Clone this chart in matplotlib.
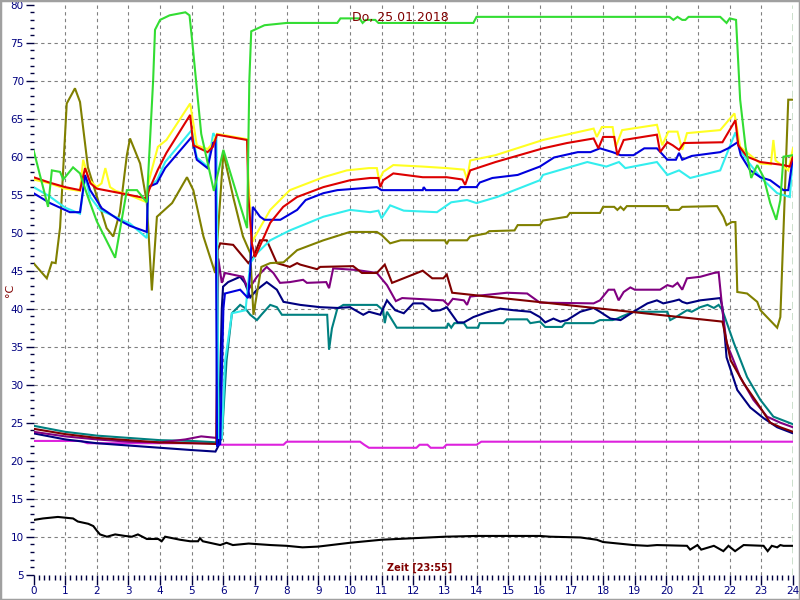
import matplotlib
matplotlib.use("Agg")
import matplotlib.pyplot as plt
from matplotlib.patches import Rectangle
from matplotlib.ticker import MultipleLocator

# ---------------- data (hours, °C) ----------------
t_black = [0, 0.3, 0.77, 1.25, 1.4, 1.73, 1.89, 2.0, 2.1, 2.32, 2.58, 2.89, 3.11, 3.3, 3.58, 3.94, 4.05, 4.16,
           4.63, 4.95, 5.2, 5.26, 5.35, 5.9, 6.1, 6.3, 6.8, 7.5, 8.0, 8.5, 9.0, 10.0, 11.0, 12.0, 13.0, 14.0,
           15.0, 16.0, 16.33, 17.28, 17.8, 18.0, 18.96, 19.4, 19.7, 20.65, 20.75, 20.98, 21.1, 21.5, 21.8,
           21.96, 22.17, 22.44, 23.07, 23.2, 23.33, 23.5, 23.6, 23.7, 24]
v_black = [12.2, 12.4, 12.6, 12.4, 12.0, 11.7, 11.4, 10.8, 10.3, 10.0, 10.3, 10.1, 10.0, 10.3, 9.7, 9.7, 9.4, 10.0,
           9.6, 9.4, 9.4, 9.8, 9.4, 8.9, 9.2, 8.9, 9.1, 8.9, 8.8, 8.6, 8.7, 9.2, 9.6, 9.8, 10.0, 10.1,
           10.1, 10.1, 10.0, 9.9, 9.6, 9.3, 8.9, 8.8, 8.9, 8.8, 8.3, 8.9, 8.3, 8.8, 8.1,
           8.8, 8.1, 8.9, 8.8, 8.1, 8.8, 8.6, 8.9, 8.8, 8.8]

t_magenta = [0, 1.5, 1.7, 5.8, 5.9, 7.9, 8.0, 10.32, 10.45, 10.6, 12.1, 12.2, 12.45, 12.55, 12.95, 13.05, 14.0, 14.15, 24]
v_magenta = [22.6, 22.6, 22.3, 22.3, 22.1, 22.1, 22.5, 22.5, 22.1, 21.7, 21.7, 22.1, 22.1, 21.7, 21.7, 22.1, 22.1, 22.5, 22.5]

t_teal = [0, 1, 2, 3, 4, 5, 5.85, 5.95, 6.1, 6.27, 6.53, 6.68, 6.85, 7.06, 7.2, 7.48, 7.69, 7.85, 9.28, 9.34,
          9.43, 9.6, 9.79, 10.85, 11.05, 11.1, 11.17, 11.48, 13.06, 13.1, 13.2, 13.3, 13.6, 13.7, 14.05, 14.1,
          14.85, 14.96, 15.6, 15.7, 16.0, 16.17, 16.7, 16.8, 17.7, 17.9, 18.3, 18.45, 18.6, 18.96, 20.03, 20.12,
          20.3, 20.65, 20.8, 21.07, 21.3, 21.5, 21.65, 21.77, 22.13, 22.55, 22.97, 23.38, 24]
v_teal = [24.6, 23.8, 23.3, 23.0, 22.7, 22.6, 22.4, 22.9, 33.2, 39.4, 40.5, 40.1, 39.2, 38.5, 39.2, 40.5, 40.2, 39.2, 39.2, 34.6,
          37.4, 40.0, 40.5, 40.5, 39.8, 38.1, 39.6, 37.5, 37.5, 38.1, 37.5, 38.1, 38.1, 37.5, 37.5, 38.1,
          38.1, 38.6, 38.6, 38.1, 38.3, 37.6, 37.6, 38.1, 38.1, 38.5, 38.5, 38.7, 39.0, 39.6, 39.6, 38.5,
          38.9, 39.8, 39.6, 40.2, 40.5, 40.1, 40.5, 39.8, 35.5, 31.0, 28.0, 25.8, 24.8]

t_navy = [0, 1, 2, 3, 4, 5, 5.75, 5.85, 5.95, 5.99, 6.15, 6.53, 6.68, 6.85, 7.06, 7.37, 7.69, 7.9, 8.43, 9.06,
          9.6, 10.0, 10.42, 10.6, 10.96, 11.17, 11.43, 11.7, 12.0, 12.3, 12.6, 12.85, 13.06, 13.4, 13.6, 13.9,
          14.3, 14.75, 15.17, 15.7, 16.0, 16.17, 16.43, 16.65, 16.86, 17.28, 17.7, 17.9, 18.23, 18.55, 18.96,
          19.4, 19.7, 19.9, 20.22, 20.4, 20.5, 20.65, 21.07, 21.7, 21.77, 21.9, 22.24, 22.65, 23.07, 23.5, 24]
v_navy = [23.6, 22.8, 22.3, 22.0, 21.7, 21.4, 21.2, 22.0, 40.0, 42.9, 43.5, 44.2, 43.4, 41.5, 42.5, 43.5, 42.5, 40.9, 40.5, 40.2,
          40.1, 40.2, 39.2, 39.6, 39.2, 41.1, 39.8, 39.4, 40.7, 40.7, 39.7, 39.8, 40.2, 38.2, 38.2, 38.9,
          39.5, 40.0, 39.8, 39.6, 38.9, 38.2, 38.7, 38.3, 38.5, 39.6, 40.1, 39.6, 38.7, 38.5, 39.6,
          40.7, 41.1, 40.7, 41.0, 41.2, 40.9, 40.7, 41.1, 41.4, 40.2, 33.6, 29.3, 27.0, 25.6, 24.4, 23.6]

t_purple = [0, 1, 2, 3, 4, 4.8, 5.3, 5.78, 5.84, 5.95, 6.05, 6.62, 6.79, 7.06, 7.37, 7.58, 7.79, 8.1, 8.52, 8.64,
            9.25, 9.34, 9.47, 10.2, 10.85, 11.17, 11.45, 11.65, 12.95, 13.1, 13.25, 13.6, 13.7, 13.8, 14.96,
            15.6, 16.0, 17.7, 17.9, 18.17, 18.35, 18.49, 18.65, 18.86, 19.0, 19.8, 20.03, 20.2, 20.35, 20.5,
            20.65, 21.07, 21.5, 21.65, 21.77, 21.9, 22.33, 22.75, 23.18, 23.6, 24]
v_purple = [23.8, 23.2, 22.8, 22.5, 22.4, 22.8, 23.2, 23.0, 46.6, 43.4, 44.7, 44.2, 42.5, 44.2, 45.5, 44.7, 43.4, 43.5, 43.8, 43.4,
            43.5, 42.7, 45.3, 45.1, 44.7, 43.1, 41.0, 41.4, 41.1, 40.5, 41.3, 41.1, 40.5, 41.6, 42.1,
            42.0, 40.8, 40.7, 41.1, 42.5, 42.5, 41.1, 42.2, 42.8, 42.5, 42.5, 43.1, 42.9, 43.4, 42.5,
            44.0, 44.2, 44.7, 44.8, 39.8, 35.5, 31.0, 28.0, 25.8, 25.0, 24.4]

t_maroon = [0, 1, 2, 3, 4, 5, 5.78, 5.82, 5.9, 6.31, 6.53, 6.79, 6.95, 7.16, 7.37, 7.69, 8.1, 8.33, 8.43, 8.96,
            9.06, 10.1, 10.38, 10.85, 11.1, 11.33, 12.3, 12.6, 12.95, 13.06, 13.23, 13.9, 21.77, 22.03, 22.44,
            22.87, 23.28, 23.6, 24]
v_maroon = [24.2, 23.5, 23.0, 22.7, 22.4, 22.3, 22.2, 47.7, 48.6, 48.4, 47.3, 46.0, 46.8, 49.0, 49.0, 46.0, 45.5, 46.0, 45.8, 45.2,
            45.5, 45.6, 44.7, 44.7, 45.8, 43.4, 45.0, 44.0, 44.0, 44.5, 42.1, 41.8, 38.3, 33.2, 30.2,
            27.6, 25.0, 24.4, 23.8]

t_olive = [0, 0.42, 0.58, 0.7, 0.84, 1.05, 1.31, 1.47, 1.72, 2.31, 2.52, 2.73, 2.95, 3.05, 3.37, 3.58, 3.74, 3.9,
           4.38, 4.85, 5.05, 5.37, 5.74, 6.0, 6.31, 6.62, 6.85, 6.95, 7.2, 7.48, 7.9, 8.33, 9.16, 10.0, 10.85,
           11.0, 11.27, 11.6, 13.0, 13.06, 13.12, 13.7, 13.8, 14.3, 14.4, 15.2, 15.3, 16.0, 16.1, 16.86, 16.95,
           17.9, 18.0, 18.35, 18.45, 18.55, 18.65, 18.75, 20.03, 20.1, 20.4, 20.5, 21.6, 21.8, 21.9, 22.07,
           22.18, 22.24, 22.55, 22.87, 22.97, 23.5, 23.6, 23.85, 24]
v_olive = [46.0, 44.0, 46.1, 46.0, 50.7, 67.0, 69.0, 67.2, 58.6, 50.6, 49.5, 52.7, 60.2, 62.4, 59.1, 54.0, 42.4, 52.1,
           53.9, 57.3, 55.6, 49.5, 44.7, 60.5, 54.7, 49.5, 47.3, 39.2, 45.5, 46.0, 46.1, 47.7, 49.0, 50.1, 50.1,
           49.7, 48.6, 49.0, 49.0, 48.5, 49.0, 49.0, 49.5, 49.9, 50.2, 50.3, 51.0, 51.0, 51.6, 52.1, 52.6,
           52.6, 53.4, 53.4, 53.0, 53.4, 53.0, 53.5, 53.5, 53.0, 53.0, 53.4, 53.5, 52.1, 51.0, 51.4,
           51.4, 42.2, 42.0, 40.9, 39.8, 37.5, 38.9, 67.5, 67.5]

t_cyan = [0, 0.5, 1.0, 1.47, 1.63, 1.79, 2.1, 3.05, 3.58, 3.62, 3.9, 4.16, 5.0, 5.16, 5.5, 5.68, 5.78, 5.85, 5.95,
          6.05, 6.27, 6.7, 6.85, 7.06, 7.48, 8.1, 9.16, 10.0, 10.64, 10.9, 11.0, 11.27, 11.7, 12.75, 13.2, 13.7,
          14.0, 14.65, 16.0, 16.1, 17.5, 18.1, 18.5, 18.7, 19.7, 20.03, 20.4, 20.75, 21.7, 22.18, 22.33, 22.55,
          22.97, 23.5, 23.9, 24]
v_cyan = [56.0, 54.8, 53.3, 52.5, 57.3, 54.7, 53.0, 51.2, 49.3, 56.0, 56.9, 59.3, 63.5, 59.9, 58.7, 63.1, 62.5, 23.0, 23.0,
          33.0, 39.4, 39.8, 46.0, 47.3, 49.0, 50.3, 52.1, 53.0, 52.7, 52.9, 51.9, 53.6, 52.9, 52.7, 54.0, 54.3,
          53.9, 54.7, 56.9, 57.6, 59.3, 58.7, 59.3, 58.5, 59.3, 57.6, 58.2, 57.2, 58.2, 63.2, 60.9, 59.5,
          57.3, 55.2, 54.7, 60.5]

t_blue = [0, 0.52, 1.15, 1.47, 1.63, 1.79, 2.16, 2.73, 3.05, 3.58, 3.62, 3.9, 4.16, 5.0, 5.16, 5.5, 5.67, 5.75,
          5.8, 5.9, 6.0, 6.05, 6.53, 6.78, 6.85, 6.93, 7.16, 7.3, 7.8, 8.33, 8.6, 9.16, 9.6, 10.85, 11.0, 12.3,
          12.33, 12.4, 13.4, 13.5, 14.0, 14.1, 14.5, 15.3, 16.0, 16.45, 17.2, 17.6, 17.9, 18.3, 18.55, 18.96,
          19.3, 19.7, 20.03, 20.3, 20.4, 20.5, 20.8, 21.7, 21.95, 22.25, 22.35, 22.65, 22.97, 23.28, 23.7,
          23.85, 24]
v_blue = [55.2, 53.9, 52.7, 52.7, 57.6, 55.6, 53.2, 51.6, 50.9, 50.1, 56.0, 56.5, 58.5, 62.6, 59.6, 58.5, 61.8, 62.0,
          22.0, 22.2, 40.0, 42.0, 42.5, 41.4, 45.0, 53.4, 52.1, 51.7, 51.7, 53.0, 54.3, 55.2, 55.6, 56.0, 55.6, 55.6,
          56.0, 55.6, 55.6, 56.0, 56.0, 56.6, 57.2, 57.6, 58.7, 59.9, 60.6, 60.6, 61.1, 60.6, 60.2, 60.2,
          61.1, 61.1, 59.6, 59.6, 60.5, 59.6, 60.1, 60.6, 61.1, 61.9, 60.2, 58.2, 57.3, 56.9, 55.6,
          55.6, 60.0]

t_yellow = [0, 0.5, 1.0, 1.47, 1.57, 1.75, 2.0, 2.15, 2.27, 2.42, 2.6, 3.0, 3.58, 3.65, 3.93, 4.2, 4.95, 5.0, 5.16,
            5.5, 5.67, 5.8, 6.75, 6.8, 6.92, 7.0, 7.48, 8.1, 9.16, 9.9, 10.6, 10.85, 10.92, 11.05, 11.37, 12.3,
            13.06, 13.6, 13.7, 13.8, 14.6, 16.1, 17.7, 17.8, 17.96, 18.3, 18.4, 18.6, 19.7, 19.87, 20.06, 20.35,
            20.5, 20.65, 21.7, 22.15, 22.33, 22.97, 23.3, 23.38, 23.45, 23.85, 24]
v_yellow = [57.0, 56.5, 55.8, 55.5, 59.6, 57.0, 56.0, 56.5, 58.5, 56.0, 55.5, 55.0, 54.0, 56.9, 61.3, 62.2, 67.0, 65.7, 61.5,
            61.0, 61.8, 63.0, 62.3, 56.0, 48.8, 49.5, 53.0, 55.6, 57.3, 58.2, 58.5, 58.5, 56.9, 58.0, 58.9, 58.7,
            58.5, 58.3, 57.0, 59.5, 60.2, 62.2, 63.7, 62.6, 63.9, 63.9, 61.3, 63.5, 64.2, 61.5, 63.3, 63.3,
            60.9, 63.1, 63.5, 65.7, 61.3, 59.1, 59.0, 62.2, 59.5, 58.2, 61.1]

t_red = [0, 0.5, 1.0, 1.47, 1.63, 1.8, 2.0, 3.0, 3.58, 3.65, 3.93, 4.2, 4.95, 5.05, 5.5, 5.67, 5.8, 6.75, 6.79,
         6.9, 7.0, 7.48, 7.89, 8.33, 9.16, 10.0, 10.64, 10.9, 10.96, 11.05, 11.37, 12.3, 13.06, 13.55, 13.64,
         13.8, 14.6, 16.1, 16.86, 17.7, 17.85, 18.0, 18.35, 18.45, 18.65, 19.7, 19.8, 20.03, 20.2, 20.4, 20.55,
         21.77, 22.18, 22.27, 22.55, 22.97, 23.7, 23.9, 24]
v_red = [57.3, 56.6, 56.0, 55.6, 58.5, 56.5, 55.8, 55.0, 54.5, 55.6, 58.3, 60.5, 65.5, 61.5, 60.6, 61.3, 62.9, 62.2, 54.7,
         48.6, 46.8, 51.3, 53.4, 54.7, 56.0, 56.9, 57.2, 57.2, 56.0, 56.9, 57.8, 57.3, 57.3, 57.0, 56.3,
         58.2, 59.3, 61.1, 61.8, 62.4, 61.1, 62.6, 62.6, 60.2, 62.2, 62.9, 60.6, 61.9, 61.5, 60.9, 61.8,
         61.9, 64.8, 61.5, 60.0, 59.3, 58.9, 58.7, 60.0]

t_green = [0, 0.46, 0.58, 0.84, 0.94, 1.25, 1.47, 1.72, 2.0, 2.58, 2.95, 3.27, 3.58, 3.78, 3.84, 4.0, 4.3, 4.8,
           4.93, 5.02, 5.3, 5.7, 6.0, 6.75, 6.82, 6.88, 7.3, 8.0, 9.6, 9.7, 10.3, 10.4, 10.5, 10.8, 10.9, 13.9,
           14.0, 20.1, 20.22, 20.35, 20.5, 20.6, 20.7, 21.7, 21.9, 22.0, 22.2, 22.33, 22.5, 22.68, 22.87, 23.07,
           23.28, 23.47, 23.6, 23.7, 24]
v_green = [60.9, 53.4, 58.2, 58.0, 57.0, 58.6, 57.8, 54.7, 51.5, 46.7, 55.6, 55.6, 54.0, 70.0, 76.7, 78.0, 78.6, 79.0,
           78.6, 75.0, 63.0, 55.5, 60.9, 50.6, 70.0, 76.5, 77.3, 77.6, 77.6, 78.2, 78.2, 77.6, 78.0, 78.0, 77.6, 77.6,
           78.4, 78.4, 78.0, 78.4, 78.0, 78.0, 78.4, 78.4, 77.6, 78.2, 78.0, 67.5, 61.3, 57.2, 58.9, 57.3,
           53.9, 51.7, 54.3, 60.0, 60.2]

x_ticks = list(range(0, 25))
y_ticks = list(range(5, 81, 5))
title_text = "Do, 25.01.2018"
xlabel_text = "Zeit [23:55]"
ylabel_text = "°C"

# ---------------- figure ----------------
plt.rcParams['font.family'] = ['DejaVu Sans']
fig = plt.figure(figsize=(8, 6), dpi=100)
fig.patch.set_facecolor('white')
ax = fig.add_axes([33.5 / 800, 1 - 574.7 / 600, (793 - 33.5) / 800, (574.7 - 4.7) / 600])
ax.set_xlim(0, 24)
ax.set_ylim(5, 80)
ax.set_facecolor('white')

# grid
for yv in y_ticks[1:-1]:
    ax.axhline(yv, color='#808080', lw=0.8, ls=(0, (3, 3)), zorder=0)
for xv in x_ticks[1:-1]:
    ax.axvline(xv, color='#808080', lw=0.8, ls=(0, (3, 3)), zorder=0)
ax.axvline(24, color='#006400', lw=1.0, ls=(0, (5, 3)), zorder=0)

series = [
    (t_black, v_black, '#000000'),
    (t_magenta, v_magenta, '#DD22DD'),
    (t_teal, v_teal, '#008080'),
    (t_navy, v_navy, '#000080'),
    (t_purple, v_purple, '#800080'),
    (t_maroon, v_maroon, '#800000'),
    (t_olive, v_olive, '#808000'),
    (t_cyan, v_cyan, '#33EEEE'),
    (t_yellow, v_yellow, '#FFFF22'),
    (t_blue, v_blue, '#0000DD'),
    (t_red, v_red, '#DD0000'),
    (t_green, v_green, '#33DD33'),
]
for t, v, c in series:
    ax.plot(t, v, color=c, lw=1.5, solid_joinstyle='miter', zorder=2)

for s in ax.spines.values():
    s.set_visible(False)

ax.xaxis.set_major_locator(MultipleLocator(1))
ax.xaxis.set_minor_locator(MultipleLocator(1 / 6))
ax.yaxis.set_major_locator(MultipleLocator(5))
ax.yaxis.set_minor_locator(MultipleLocator(1))
ax.set_xticks(x_ticks)
ax.set_yticks(y_ticks)
ax.tick_params(axis='x', which='major', length=7, width=1, color='#000040', labelcolor='#000080',
               labelsize=7.5, pad=1)
ax.tick_params(axis='x', which='minor', length=3.5, width=1, color='#000040')
ax.tick_params(axis='y', which='major', length=6, width=1, color='#000040', labelcolor='#000080',
               labelsize=7.5, pad=1)
ax.tick_params(axis='y', which='minor', length=3, width=1, color='#000040')

fig.text(0.5, 1 - 17 / 600, title_text, ha='center', va='center', color='#800000', fontsize=9)
fig.text(420 / 800, 1 - 568 / 600, xlabel_text, ha='center', va='center', color='#800000',
         fontsize=7, fontweight='bold')
fig.text(10 / 800, 1 - 290 / 600, ylabel_text, ha='center', va='center', color='#800000',
         fontsize=8, rotation=90)

fig.patches.append(Rectangle((0, 0), 1, 1, transform=fig.transFigure, fill=False,
                             edgecolor='#A0A0A0', lw=2.5))

fig.savefig('out.png', dpi=100)
